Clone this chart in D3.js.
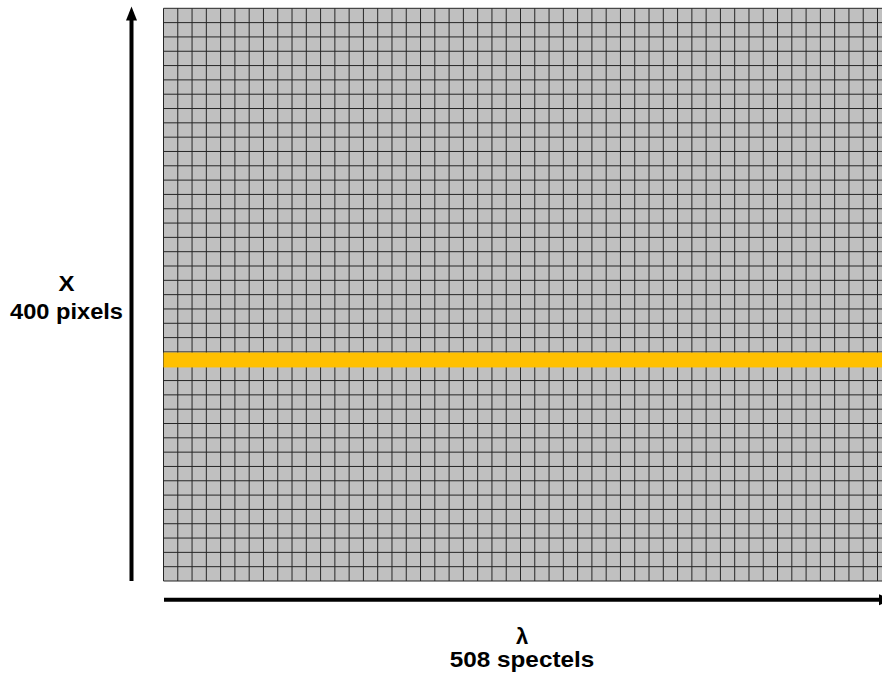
<!DOCTYPE html>
<html>
<head>
<meta charset="utf-8">
<script src="https://cdn.jsdelivr.net/npm/d3@7"></script>
<style>
  html, body { margin: 0; padding: 0; background: #fff; }
  svg { display: block; }
</style>
</head>
<body>
<svg id="chart" width="882" height="684"></svg>
<script>
// ---- data ----
const spectelCount = 508;          // λ axis extent
const pixelCount = 400;            // X axis extent
const binSize = 10;                // one drawn cell = 10 detector units
const highlightRow = [150, 160];   // highlighted X row (from bottom)
const xLabel = ["λ", "508 spectels"];
const yLabel = ["X", "400 pixels"];

// ---- layout ----
const W = 882, H = 684;
const gx0 = 163.5, gy0 = 8.3, gy1 = 581;
const cell = 14.28;
const svg = d3.select("#chart");

const x = d3.scaleLinear().domain([0, spectelCount]).range([gx0, gx0 + spectelCount / binSize * cell]);
const y = d3.scaleLinear().domain([0, pixelCount]).range([gy1, gy0]);

// background
svg.append("rect")
  .attr("x", x(0)).attr("y", y(pixelCount))
  .attr("width", x(spectelCount) - x(0)).attr("height", y(0) - y(pixelCount))
  .attr("fill", "#c0c0c0");

const grid = svg.append("g").attr("stroke", "#262626").attr("stroke-width", 1);
// vertical grid lines
grid.selectAll("line.v")
  .data(d3.range(0, spectelCount + 1, binSize))
  .join("line").attr("class", "v")
  .attr("x1", d => x(d)).attr("x2", d => x(d))
  .attr("y1", y(pixelCount)).attr("y2", y(0));
// horizontal grid lines
grid.selectAll("line.h")
  .data(d3.range(0, pixelCount + 1, binSize))
  .join("line").attr("class", "h")
  .attr("x1", x(0)).attr("x2", x(spectelCount))
  .attr("y1", d => y(d)).attr("y2", d => y(d));

// highlighted row
svg.append("rect")
  .attr("x", x(0))
  .attr("y", y(highlightRow[1]) + 0.6)
  .attr("width", x(spectelCount) - x(0))
  .attr("height", y(highlightRow[0]) - y(highlightRow[1]) + 0.6)
  .attr("fill", "#ffc000");

// arrows
// vertical
const ax = 131.5;
svg.append("line")
  .attr("x1", ax).attr("x2", ax).attr("y1", y(0)).attr("y2", 19)
  .attr("stroke", "#000").attr("stroke-width", 4);
svg.append("path")
  .attr("d", `M${ax},6.5 L${ax - 5.5},20.5 L${ax + 5.5},20.5 Z`)
  .attr("fill", "#000");
// horizontal
const ay = 599.7;
svg.append("line")
  .attr("x1", x(0) + 0.5).attr("x2", 881).attr("y1", ay).attr("y2", ay)
  .attr("stroke", "#000").attr("stroke-width", 4);
svg.append("path")
  .attr("d", `M879,${ay - 5.5} L893,${ay} L879,${ay + 5.5} Z`)
  .attr("fill", "#000");

// labels
const font = "'Liberation Sans', Arial, Helvetica, sans-serif";
function label(cx, lines, baselines, widths) {
  lines.forEach((t, i) => {
    const el = svg.append("text")
      .attr("x", cx).attr("y", baselines[i])
      .attr("text-anchor", "middle")
      .attr("font-family", font).attr("font-weight", "bold")
      .attr("font-size", 22).attr("fill", "#000")
      .text(t);
    if (widths[i]) el.attr("textLength", widths[i]).attr("lengthAdjust", "spacingAndGlyphs");
  });
}
label(66.5, yLabel, [290.5, 318.5], [16, 113]);
label(522, xLabel, [643.5, 667], [0, 144.5]);
</script>
</body>
</html>
